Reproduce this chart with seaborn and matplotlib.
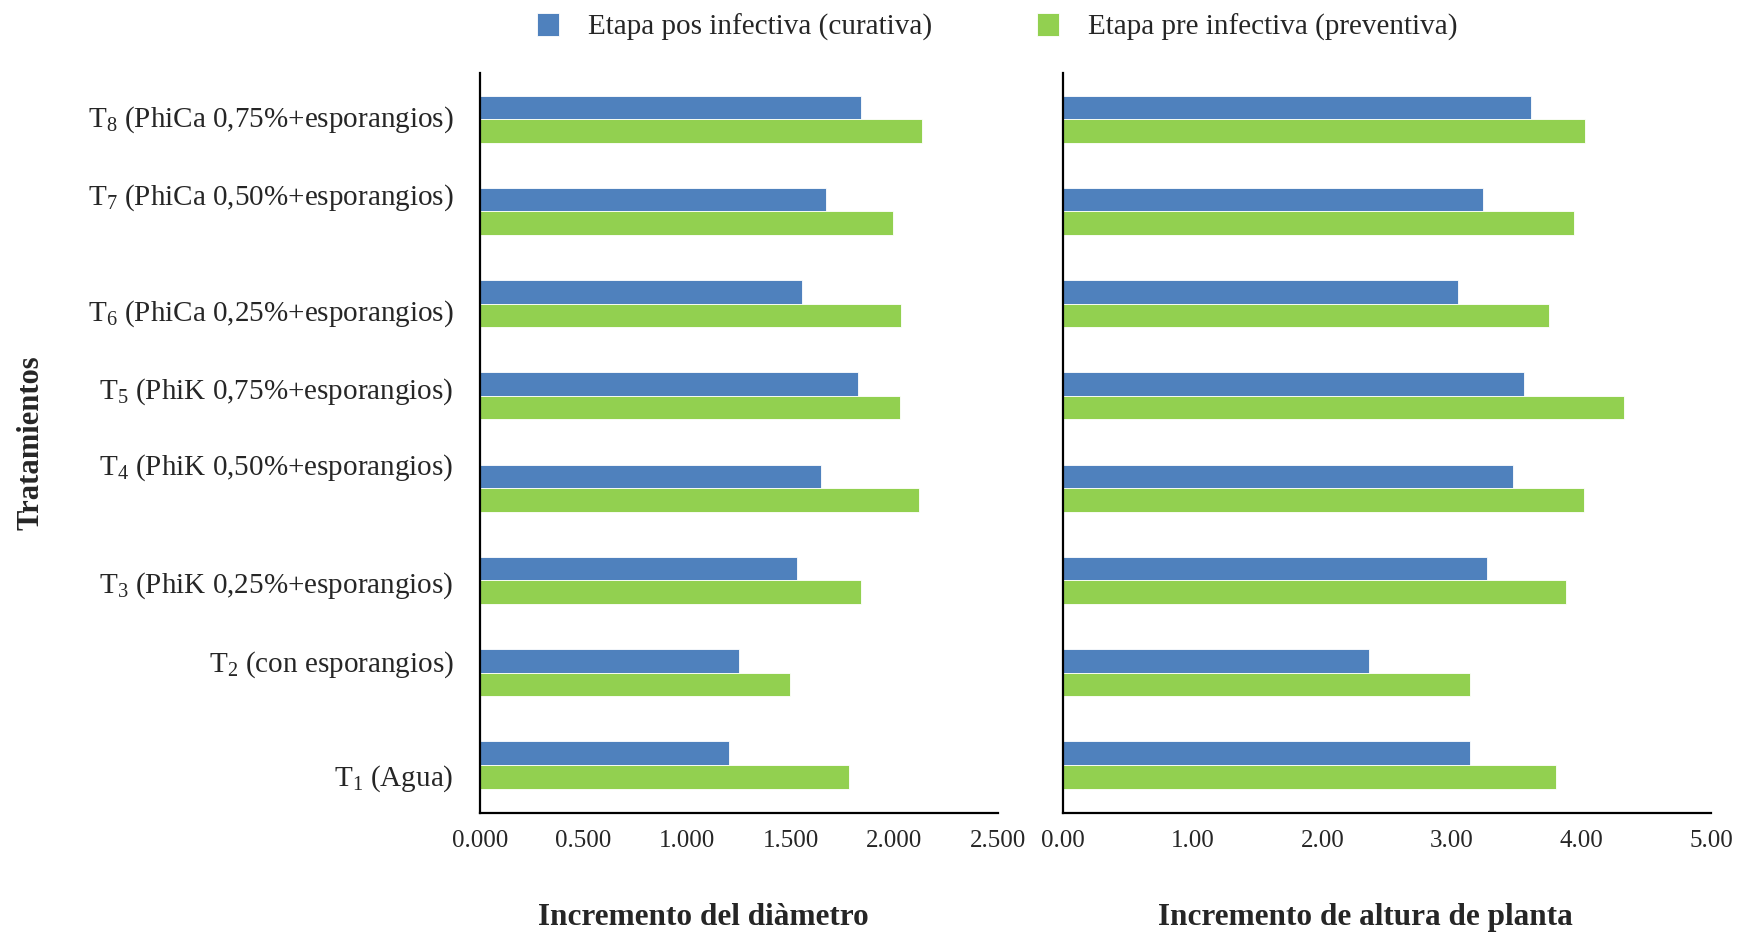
import matplotlib
matplotlib.use("Agg")
import matplotlib.pyplot as plt
import matplotlib.ticker as mticker
import matplotlib.transforms as mtrans
import pandas as pd
import seaborn as sns

tratamientos = [
    "T$_{8}$ (PhiCa 0,75%+esporangios)",
    "T$_{7}$ (PhiCa 0,50%+esporangios)",
    "T$_{6}$ (PhiCa 0,25%+esporangios)",
    "T$_{5}$ (PhiK 0,75%+esporangios)",
    "T$_{4}$ (PhiK 0,50%+esporangios)",
    "T$_{3}$ (PhiK 0,25%+esporangios)",
    "T$_{2}$ (con esporangios)",
    "T$_{1}$ (Agua)",
]
etapas = ["Etapa pos infectiva (curativa)", "Etapa pre infectiva (preventiva)"]

diametro_pos = [1.840, 1.672, 1.554, 1.826, 1.647, 1.532, 1.249, 1.203]
diametro_pre = [2.133, 1.991, 2.030, 2.025, 2.118, 1.839, 1.496, 1.781]
altura_pos = [3.61, 3.24, 3.05, 3.56, 3.47, 3.27, 2.36, 3.14]
altura_pre = [4.03, 3.94, 3.75, 4.33, 4.02, 3.88, 3.14, 3.80]

colores = ["#4F81BD", "#92D050"]

# the original labels are not centred on their bars (pixels, + = down)
desfase_etiquetas = [-4, -18, 6, -8, -25, 1, -12, 10]

df = pd.DataFrame({
    "tratamiento": tratamientos * 2,
    "etapa": [etapas[0]] * 8 + [etapas[1]] * 8,
    "diametro": diametro_pos + diametro_pre,
    "altura": altura_pos + altura_pre,
})

sns.set_style("white")
plt.rcParams["font.family"] = ["Liberation Serif", "DejaVu Serif"]
plt.rcParams["mathtext.fontset"] = "custom"
plt.rcParams["mathtext.rm"] = "Liberation Serif"
plt.rcParams["mathtext.it"] = "Liberation Serif:italic"
plt.rcParams["mathtext.bf"] = "Liberation Serif:bold"

fig = plt.figure(figsize=(17.53, 9.32), dpi=100)
ax1 = fig.add_axes([0.2738, 0.1277, 0.2955, 0.794])
ax2 = fig.add_axes([0.6064, 0.1277, 0.3697, 0.794])

for ax, col, xmax, fmt in [(ax1, "diametro", 2.5, "%.3f"), (ax2, "altura", 5.0, "%.2f")]:
    sns.barplot(data=df, x=col, y="tratamiento", hue="etapa", order=tratamientos,
                hue_order=etapas, palette=colores, saturation=1, orient="h", width=0.51,
                edgecolor="white", linewidth=0.6, ax=ax, legend=(ax is ax1))
    ax.set_xlim(0, xmax)
    ax.set_ylim(7.52, -0.5)
    ax.xaxis.set_major_locator(mticker.MultipleLocator(xmax / 5))
    ax.xaxis.set_major_formatter(mticker.FormatStrFormatter(fmt))
    ax.tick_params(axis="x", length=0, pad=12, labelsize=18)
    ax.tick_params(axis="y", length=0, pad=19, labelsize=21)
    sns.despine(ax=ax)
    for s in ["left", "bottom"]:
        ax.spines[s].set_color("black")
        ax.spines[s].set_linewidth(1.6)

ax2.set_yticklabels([])
ax2.set_ylabel("")

for lab, d in zip(ax1.get_yticklabels(), desfase_etiquetas):
    lab.set_transform(lab.get_transform() + mtrans.ScaledTranslation(0, -d / 100, fig.dpi_scale_trans))

ax1.set_xlabel("Incremento del diàmetro", fontsize=22.5, fontweight="bold")
ax1.xaxis.set_label_coords(0.432, -0.122)
ax2.set_xlabel("Incremento de altura de planta", fontsize=22.5, fontweight="bold")
ax2.xaxis.set_label_coords(0.466, -0.122)
ax1.set_ylabel("Tratamientos", fontsize=22, fontweight="bold")
ax1.yaxis.set_label_coords(-0.838, 0.501)

handles, labels = ax1.get_legend_handles_labels()
ax1.get_legend().remove()
fig.legend(handles, labels, loc="center", bbox_to_anchor=(0.569, 0.971), ncol=2,
           frameon=False, fontsize=21, handlelength=0.75, handleheight=0.8,
           handletextpad=1.0, columnspacing=3.6)

fig.savefig("out.png", dpi=100)
